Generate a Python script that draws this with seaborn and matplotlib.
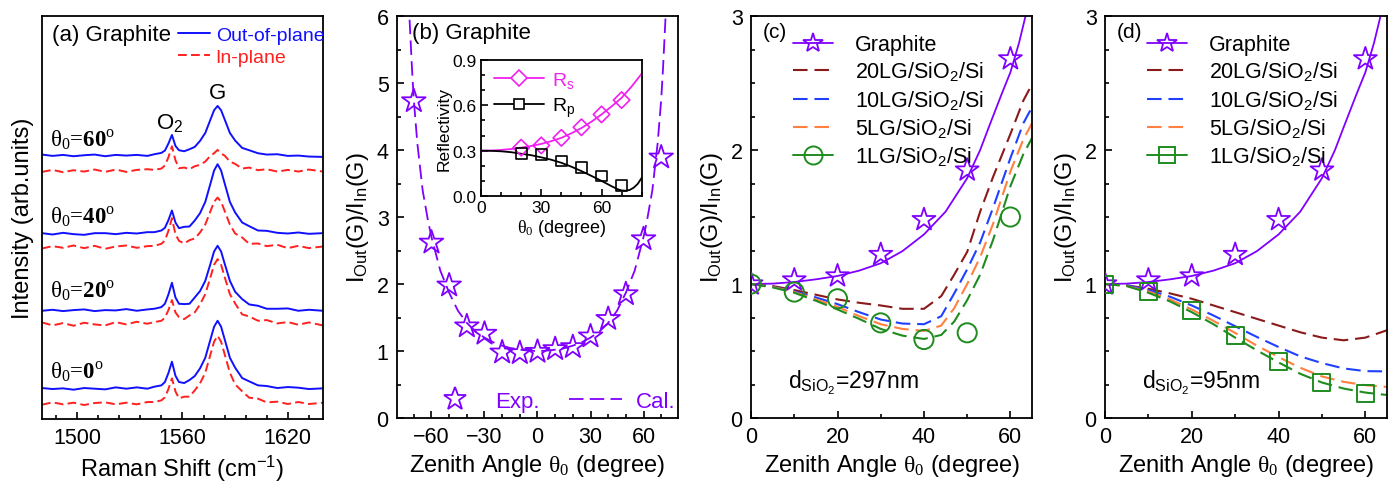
import matplotlib
matplotlib.use('Agg')
import matplotlib.pyplot as plt
import seaborn as sns
from matplotlib.lines import Line2D
from matplotlib.ticker import MultipleLocator, FormatStrFormatter

sns.set_theme(style='ticks', rc={'axes.edgecolor': 'black', 'xtick.color': 'black',
                                 'ytick.color': 'black', 'axes.linewidth': 1.2,
                                 'text.color': 'black', 'axes.labelcolor': 'black'})
plt.rcParams['font.family'] = ['Liberation Sans', 'DejaVu Sans']
plt.rcParams['mathtext.fontset'] = 'custom'
plt.rcParams['mathtext.rm'] = 'Liberation Sans'
plt.rcParams['mathtext.it'] = 'Liberation Sans:italic'
plt.rcParams['mathtext.tt'] = 'Liberation Serif'
plt.rcParams['mathtext.bf'] = 'Liberation Serif:bold'

PURPLE = '#8000FF'
DARKRED = '#8B1A1A'
BLUE = '#2040FF'
ORANGE = '#FF8040'
GREEN = '#1E8C1E'
MAGENTA = '#F020F0'

# ---- (a) Raman spectra (arb. units)
shift = [1480, 1486, 1492, 1498, 1504, 1510, 1516, 1522, 1528, 1534,
         1540, 1544, 1548, 1550, 1552, 1554, 1556, 1558, 1561, 1564,
         1567, 1570, 1573, 1576, 1578, 1580, 1582, 1584, 1587, 1590,
         1594, 1598, 1603, 1608, 1614, 1620, 1626, 1632, 1640]
oop_0 = [9.3, 9.0, 9.2, 8.8, 9.3, 9.1, 8.9, 9.5, 9.1, 9.5,
         9.1, 9.7, 10.1, 11.1, 13.8, 17.2, 13.0, 11.1, 10.8, 11.7,
         12.9, 15.2, 18.4, 24.0, 27.7, 29.5, 27.7, 24.0, 18.4, 15.4,
         12.3, 11.3, 10.1, 9.9, 9.3, 9.6, 9.4, 9.0, 9.2]
inp_0 = [4.3, 5.0, 4.4, 4.9, 4.2, 4.8, 5.0, 4.4, 4.9, 4.4,
         5.1, 5.1, 5.6, 6.5, 9.0, 12.2, 8.3, 6.2, 6.7, 6.7,
         8.6, 10.7, 13.9, 19.5, 23.2, 25.0, 23.2, 19.5, 13.9, 10.4,
         8.3, 6.4, 6.1, 5.0, 5.2, 4.5, 5.1, 4.5, 4.9]
oop_20 = [32.5, 32.8, 32.4, 32.7, 32.9, 32.4, 32.7, 32.6, 33.0, 32.5,
          32.9, 33.1, 33.6, 34.6, 37.4, 40.9, 36.5, 34.6, 34.5, 34.6,
          36.5, 38.4, 41.5, 46.7, 50.3, 52.0, 50.3, 46.7, 41.5, 38.2,
          36.0, 34.4, 34.0, 33.1, 33.1, 33.2, 32.5, 32.8, 32.5]
inp_20 = [29.0, 28.1, 28.8, 28.0, 28.9, 28.4, 28.1, 29.1, 28.4, 29.2,
          28.6, 29.1, 29.5, 30.4, 32.7, 35.7, 32.0, 30.6, 30.0, 31.1,
          32.0, 34.4, 37.5, 42.7, 46.3, 48.0, 46.3, 42.7, 37.5, 34.7,
          31.4, 30.8, 29.5, 29.7, 28.7, 29.1, 28.3, 29.0, 28.1]
oop_40 = [55.8, 55.4, 55.9, 55.5, 55.3, 55.8, 55.8, 55.5, 55.9, 55.7,
          56.1, 56.1, 56.6, 57.4, 59.7, 62.6, 59.0, 57.3, 57.7, 57.8,
          59.6, 61.8, 65.2, 70.8, 74.6, 76.5, 74.6, 70.8, 65.2, 62.0,
          59.0, 57.9, 56.6, 56.5, 55.9, 55.7, 56.0, 55.6, 55.8]
inp_40 = [51.2, 51.9, 51.4, 52.1, 51.3, 52.0, 51.1, 51.8, 52.1, 51.4,
          51.9, 52.0, 52.6, 53.6, 56.5, 60.3, 55.5, 53.5, 52.7, 53.7,
          54.2, 56.0, 58.4, 62.5, 65.2, 66.5, 65.2, 62.5, 58.4, 55.7,
          54.5, 52.6, 52.7, 51.9, 52.3, 51.3, 52.0, 51.3, 51.8]
oop_60 = [79.4, 79.0, 79.3, 78.9, 79.2, 79.4, 78.9, 79.3, 79.1, 79.3,
          79.0, 79.5, 79.9, 80.6, 82.7, 85.3, 82.0, 80.7, 80.4, 81.0,
          81.7, 83.5, 85.9, 90.0, 92.7, 94.0, 92.7, 90.0, 85.9, 83.6,
          81.4, 80.7, 79.8, 79.4, 79.5, 79.0, 79.1, 78.8, 78.7]
inp_60 = [74.2, 74.8, 74.1, 74.7, 74.3, 74.9, 74.2, 74.9, 74.2, 74.8,
          75.0, 74.8, 75.2, 76.1, 78.6, 81.9, 77.7, 75.3, 75.5, 75.0,
          75.9, 76.3, 77.3, 79.1, 79.8, 80.8, 79.7, 79.1, 77.3, 76.6,
          75.2, 75.5, 74.7, 75.0, 74.3, 74.8, 74.3, 74.9, 74.3]
spectra = [(oop_0, inp_0), (oop_20, inp_20), (oop_40, inp_40), (oop_60, inp_60)]
angle_labels = ['0', '20', '40', '60']
label_y = [12.5, 36.7, 59.0, 82.3]

# ---- (b) graphite, both signs of zenith angle
b_ang = [-70, -60, -50, -40, -30, -20, -10, 0, 10, 20, 30, 40, 50, 60, 70]
b_exp = [4.73, 2.62, 1.98, 1.37, 1.26, 0.98, 0.97, 0.99, 1.03, 1.06, 1.22, 1.48, 1.85, 2.67, 3.89]
b_cal_ang = [-74, -72.5, -71, -70, -68, -65, -62, -60, -55, -50, -45, -40, -35, -30, -25,
             -20, -15, -10, -5, 0, 5, 10, 15, 20, 25, 30, 35, 40, 45, 50, 55, 60, 62,
             65, 68, 70, 71, 72.5, 74]
b_cal = [7.0, 6.0, 5.2, 4.75, 4.1, 3.4, 2.95, 2.7, 2.2, 1.87, 1.6, 1.42, 1.29, 1.2, 1.13,
         1.08, 1.04, 1.02, 1.005, 1.0, 1.005, 1.02, 1.04, 1.08, 1.13, 1.2, 1.29, 1.42, 1.6,
         1.87, 2.2, 2.7, 2.95, 3.4, 4.1, 4.75, 5.2, 6.0, 7.0]

# inset reflectivity
r_ang = [20, 30, 40, 50, 60, 70]
rs_exp = [0.32, 0.335, 0.385, 0.455, 0.54, 0.635]
rp_exp = [0.28, 0.273, 0.232, 0.19, 0.132, 0.072]
rs_ang = [0, 5, 10, 15, 20, 25, 30, 35, 40, 45, 50, 55, 60, 65, 70, 75, 80]
rs_cal = [0.300, 0.301, 0.305, 0.311, 0.32, 0.331, 0.345, 0.363, 0.385, 0.415, 0.45,
          0.492, 0.54, 0.593, 0.65, 0.725, 0.81]
rp_ang = [0, 5, 10, 15, 20, 25, 30, 35, 40, 45, 50, 55, 60, 65, 68, 70, 72, 74, 76, 78, 80]
rp_cal = [0.30, 0.299, 0.296, 0.29, 0.28, 0.27, 0.256, 0.24, 0.22, 0.194, 0.165, 0.133,
          0.10, 0.065, 0.045, 0.037, 0.035, 0.04, 0.055, 0.08, 0.12]

# ---- (c) and (d)
exp_ang = [0, 10, 20, 30, 40, 50, 60]
graphite_exp = [1.0, 1.03, 1.06, 1.22, 1.48, 1.85, 2.68]
gr_ang = [0, 5, 10, 15, 20, 25, 30, 35, 40, 45, 50, 53, 55, 58, 60, 62, 63.5, 65]
graphite_cal = [1.0, 1.003, 1.015, 1.035, 1.06, 1.1, 1.155, 1.245, 1.37, 1.54, 1.79,
                2.0, 2.17, 2.42, 2.58, 2.8, 3.0, 3.2]

c_ang = [0, 5, 10, 15, 20, 25, 30, 35, 40, 44, 47, 50, 53, 56, 60, 63, 65]
c_20lg = [1.0, 0.985, 0.955, 0.92, 0.885, 0.86, 0.84, 0.815, 0.815, 0.91, 1.07, 1.24,
          1.54, 1.80, 2.12, 2.37, 2.49]
c_10lg = [1.0, 0.98, 0.945, 0.90, 0.85, 0.79, 0.735, 0.705, 0.70, 0.76, 0.93, 1.11,
          1.31, 1.57, 1.94, 2.2, 2.32]
c_5lg = [1.0, 0.978, 0.94, 0.885, 0.83, 0.76, 0.70, 0.665, 0.65, 0.69, 0.82, 1.0,
         1.2, 1.45, 1.84, 2.08, 2.2]
c_1lg = [1.0, 0.975, 0.935, 0.875, 0.81, 0.74, 0.665, 0.615, 0.59, 0.62, 0.72, 0.88,
         1.07, 1.33, 1.73, 1.97, 2.09]
c_1lg_exp = [1.0, 0.94, 0.89, 0.71, 0.586, 0.636, 1.50]

d_ang = [0, 5, 10, 15, 20, 25, 30, 35, 40, 45, 50, 55, 60, 65]
d_20lg = [1.0, 0.99, 0.965, 0.93, 0.89, 0.84, 0.79, 0.74, 0.69, 0.64, 0.60, 0.58, 0.60, 0.655]
d_10lg = [1.0, 0.99, 0.955, 0.905, 0.84, 0.765, 0.685, 0.605, 0.53, 0.46, 0.41, 0.37, 0.35, 0.348]
d_5lg = [1.0, 0.985, 0.945, 0.885, 0.81, 0.725, 0.635, 0.54, 0.455, 0.375, 0.31, 0.27, 0.245, 0.232]
d_1lg = [1.0, 0.985, 0.935, 0.87, 0.79, 0.70, 0.60, 0.505, 0.415, 0.33, 0.265, 0.22, 0.19, 0.172]
d_1lg_exp = [1.0, 0.944, 0.80, 0.616, 0.42, 0.263, 0.181]

fig = plt.figure(figsize=(13.95, 4.89), dpi=100)
ax_a = fig.add_axes([0.0301, 0.1411, 0.2014, 0.8241])
ax_b = fig.add_axes([0.2846, 0.1431, 0.2014, 0.8221])
ax_c = fig.add_axes([0.5384, 0.1431, 0.2014, 0.8221])
ax_d = fig.add_axes([0.7921, 0.1431, 0.2022, 0.8221])
ax_in = fig.add_axes([0.3448, 0.5971, 0.1152, 0.2781])

theta_lbl = 'Zenith Angle $\\mathtt{\\theta_0}$ (degree)'
ratio_lbl = '$\\mathregular{I_{Out}(G)/I_{In}(G)}$'

for ax in (ax_a, ax_b, ax_c, ax_d, ax_in):
    ax.tick_params(which='both', direction='in', top=False, right=False,
                   width=1.2, labelsize=15.5, pad=6)
    ax.tick_params(which='major', length=5)
    ax.tick_params(which='minor', length=3)
    for sp in ax.spines.values():
        sp.set_linewidth(1.3)

# ---- panel (a)
for (oop, inp), lbl, ly in zip(spectra, angle_labels, label_y):
    sns.lineplot(x=shift, y=oop, ax=ax_a, color='#1010FF', lw=1.4)
    sns.lineplot(x=shift, y=inp, ax=ax_a, color='#FF2020', lw=1.4,
                 linestyle=(0, (4.5, 2.2)))
    ax_a.text(1484.5, ly, '$\\mathtt{\\theta_0}$=$\\mathbf{' + lbl + '}$$^{\\mathtt{o}}$',
              fontsize=16.5, family='Liberation Serif', va='baseline')
ax_a.set_xlim(1480, 1640)
ax_a.set_ylim(0, 121)
ax_a.set_yticks([])
ax_a.xaxis.set_major_locator(MultipleLocator(60))
ax_a.xaxis.set_minor_locator(MultipleLocator(12))
ax_a.set_xlabel('Raman Shift (cm$^{\\mathregular{-1}}$)', fontsize=17, labelpad=3)
ax_a.set_ylabel('Intensity (arb.units)', fontsize=17, labelpad=6)
ax_a.text(0.035, 0.955, '(a) Graphite', transform=ax_a.transAxes, fontsize=16, va='center')
ax_a.text(1580, 98, 'G', fontsize=16, ha='center', va='center')
ax_a.text(1553, 89, 'O$_2$', fontsize=16, ha='center', va='center')
ax_a.legend(handles=[Line2D([], [], color='#1010FF', lw=1.4),
                     Line2D([], [], color='#FF2020', lw=1.4, ls=(0, (4.5, 2.2)))],
            labels=['Out-of-plane', 'In-plane'], loc='upper right',
            bbox_to_anchor=(1.005, 0.975), frameon=False, fontsize=14,
            handlelength=1.65, handletextpad=0.3, labelspacing=0.25,
            borderpad=0, borderaxespad=0, labelcolor=['#1010FF', '#FF2020'])

# ---- panel (b)
sns.lineplot(x=b_cal_ang, y=b_cal, ax=ax_b, color=PURPLE, lw=1.3, linestyle=(0, (8, 3.5)))
sns.scatterplot(x=b_ang, y=b_exp, ax=ax_b, marker='*', s=320, facecolor='none',
                edgecolor=PURPLE, linewidth=1.3, zorder=3)
ax_b.set_xlim(-79.5, 79.5)
ax_b.set_ylim(0, 6)
ax_b.xaxis.set_major_locator(MultipleLocator(30))
ax_b.xaxis.set_minor_locator(MultipleLocator(10))
ax_b.yaxis.set_major_locator(MultipleLocator(1))
ax_b.yaxis.set_minor_locator(MultipleLocator(0.5))
ax_b.set_xlabel(theta_lbl, fontsize=17, labelpad=3)
ax_b.set_ylabel(ratio_lbl, fontsize=17, labelpad=4)
ax_b.text(0.055, 0.96, '(b) Graphite', transform=ax_b.transAxes, fontsize=16, va='center')
ax_b.legend(handles=[Line2D([], [], color=PURPLE, marker='*', ms=17, mfc='none', mew=1.3, ls='none'),
                     Line2D([], [], color=PURPLE, lw=1.3, ls=(0, (8, 3.5)))],
            labels=['Exp.', 'Cal.'], ncol=2, loc='lower right', bbox_to_anchor=(0.99, 0.015),
            frameon=False, fontsize=16, handlelength=2.4, handletextpad=0.6,
            columnspacing=1.3, borderpad=0, borderaxespad=0, labelcolor=PURPLE)

# inset
sns.lineplot(x=rs_ang, y=rs_cal, ax=ax_in, color=MAGENTA, lw=1.3)
sns.lineplot(x=rp_ang, y=rp_cal, ax=ax_in, color='black', lw=1.3)
sns.scatterplot(x=r_ang, y=rs_exp, ax=ax_in, marker='D', s=70, facecolor='none',
                edgecolor=MAGENTA, linewidth=1.2, zorder=3)
sns.scatterplot(x=r_ang, y=rp_exp, ax=ax_in, marker='s', s=60, facecolor='none',
                edgecolor='black', linewidth=1.2, zorder=3)
ax_in.set_xlim(0, 80)
ax_in.set_ylim(0, 0.9)
ax_in.xaxis.set_major_locator(MultipleLocator(30))
ax_in.xaxis.set_minor_locator(MultipleLocator(10))
ax_in.yaxis.set_major_locator(MultipleLocator(0.3))
ax_in.yaxis.set_minor_locator(MultipleLocator(0.1))
ax_in.yaxis.set_major_formatter(FormatStrFormatter('%.1f'))
ax_in.tick_params(labelsize=12.5, pad=3)
ax_in.set_xlabel('$\\mathtt{\\theta_0}$ (degree)', fontsize=13, labelpad=1)
ax_in.set_ylabel('Reflectivity', fontsize=12.5, labelpad=1)
ax_in.legend(handles=[Line2D([], [], color=MAGENTA, lw=1.3, marker='D', ms=8, mfc='white', mew=1.2),
                      Line2D([], [], color='black', lw=1.3, marker='s', ms=7.5, mfc='white', mew=1.2)],
             labels=['R$_\\mathregular{s}$', 'R$_\\mathregular{p}$'], loc='upper left',
             bbox_to_anchor=(0.08, 0.93), frameon=False, fontsize=14, handlelength=2.6,
             handletextpad=0.4, labelspacing=0.3, borderpad=0, borderaxespad=0,
             labelcolor=[MAGENTA, 'black'])


def layer_panel(ax, ang, curves, lg_exp, marker, tag, dtext):
    sns.lineplot(x=gr_ang, y=graphite_cal, ax=ax, color=PURPLE, lw=1.3)
    for vals, col in zip(curves, [DARKRED, BLUE, ORANGE, GREEN]):
        sns.lineplot(x=ang, y=vals, ax=ax, color=col, lw=1.5, linestyle=(0, (7, 3.3)))
    sns.scatterplot(x=exp_ang, y=graphite_exp, ax=ax, marker='*', s=300, facecolor='none',
                    edgecolor=PURPLE, linewidth=1.3, zorder=3)
    sns.scatterplot(x=exp_ang, y=lg_exp, ax=ax, marker=marker, s=190 if marker == 'o' else 150,
                    facecolor='none', edgecolor=GREEN, linewidth=1.4, zorder=3)
    ax.set_xlim(0, 65)
    ax.set_ylim(0, 3)
    ax.xaxis.set_major_locator(MultipleLocator(20))
    ax.xaxis.set_minor_locator(MultipleLocator(10))
    ax.yaxis.set_major_locator(MultipleLocator(1))
    ax.yaxis.set_minor_locator(MultipleLocator(0.25))
    ax.set_xlabel(theta_lbl, fontsize=17, labelpad=3)
    ax.set_ylabel(ratio_lbl, fontsize=17, labelpad=4)
    ax.text(0.043, 0.962, tag, transform=ax.transAxes, fontsize=15, va='center')
    ax.text(8.5, 0.27, dtext, fontsize=16.5, va='center')
    handles = [Line2D([], [], color=PURPLE, lw=1.3, marker='*', ms=15, mfc='none', mew=1.3),
               Line2D([], [], color=DARKRED, lw=1.5, ls=(0, (7, 3.3))),
               Line2D([], [], color=BLUE, lw=1.5, ls=(0, (7, 3.3))),
               Line2D([], [], color=ORANGE, lw=1.5, ls=(0, (7, 3.3))),
               Line2D([], [], color=GREEN, lw=1.4, marker=marker, ms=13 if marker == 'o' else 11.5,
                      mfc='none', mew=1.4)]
    labels = ['Graphite', '20LG/SiO$_2$/Si', '10LG/SiO$_2$/Si', '5LG/SiO$_2$/Si', '1LG/SiO$_2$/Si']
    ax.legend(handles=handles, labels=labels, loc='upper left', bbox_to_anchor=(0.15, 0.955),
              frameon=False, fontsize=15.5, handlelength=1.85, handletextpad=1.0,
              labelspacing=0.22, borderpad=0, borderaxespad=0)


layer_panel(ax_c, c_ang, [c_20lg, c_10lg, c_5lg, c_1lg], c_1lg_exp, 'o', '(c)',
            'd$_{\\mathregular{SiO_2}}$=297nm')
layer_panel(ax_d, d_ang, [d_20lg, d_10lg, d_5lg, d_1lg], d_1lg_exp, 's', '(d)',
            'd$_{\\mathregular{SiO_2}}$=95nm')

fig.savefig('out.png', dpi=100)
